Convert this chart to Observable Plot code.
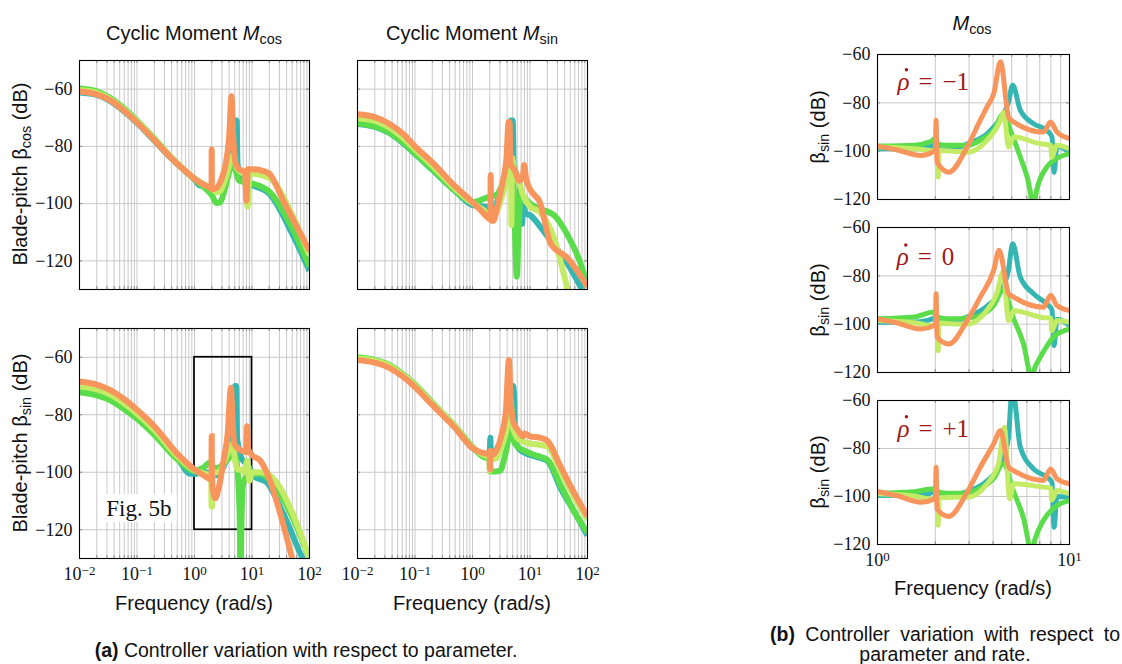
<!DOCTYPE html>
<html><head><meta charset="utf-8">
<script src="https://cdn.jsdelivr.net/npm/d3@7"></script>
<script src="https://cdn.jsdelivr.net/npm/@observablehq/plot@0.6"></script>
<style>
body{margin:0;background:#fff;}
#root{position:relative;width:1122px;height:664px;overflow:hidden;font-family:"Liberation Sans",Arial,sans-serif;color:#111;}
.plot{position:absolute;}
.lbl{position:absolute;white-space:nowrap;font-size:20px;transform:translate(-50%,-50%);}
.rot{transform:translate(-50%,-50%) rotate(-90deg);}
sub{font-size:0.72em;vertical-align:-0.28em;line-height:0;}
.cap{position:absolute;font-size:19.5px;}
</style></head><body><div id="root"></div>
<script>
// ---------- tick values ----------
const leftXTicks = [0.01, 0.1, 1, 10, 100];
const rightXTicks = [1, 10];
const yTicks = [-60, -80, -100, -120];
const leftXGrid = [];
for (const d of [0.01, 0.1, 1, 10]) for (let k = 1; k <= 9; k++) leftXGrid.push(+(k * d).toPrecision(3));
leftXGrid.push(100);
const rightXGrid = [1, 2, 3, 4, 5, 6, 7, 8, 9, 10];

// ---------- series (frequency rad/s, dB) ----------
// Top-left: beta_cos vs M_cos
const tlTeal = [[0.01,-61.2],[0.02,-62],[0.035,-64.3],[0.06,-67.8],[0.1,-71.8],[0.2,-78],[0.4,-84.3],[0.7,-88.8],[1,-91.5],[1.2,-93.5],[1.5,-94],[2,-95],[2.5,-95.5],[3,-93],[4,-87],[4.8,-80],[5.05,-71],[5.4,-71],[5.6,-86],[6.5,-91],[8,-92.5],[10,-93.5],[20,-96.5],[50,-110.5],[100,-123.5]];
const tlGreen = [[0.01,-59.8],[0.02,-60.8],[0.035,-63.2],[0.06,-66.8],[0.1,-71],[0.2,-77.3],[0.4,-84],[0.7,-88.7],[1,-91.5],[1.5,-94.5],[2,-97],[2.4,-99.8],[2.8,-99.5],[3.3,-95.5],[4,-89],[4.7,-85],[5.3,-89],[6,-92],[8,-92.5],[10,-93],[20,-95.8],[50,-108.5],[100,-122]];
const tlLight = [[0.01,-60.3],[0.02,-61.3],[0.035,-63.6],[0.06,-67.2],[0.1,-71.3],[0.2,-77.5],[0.4,-84],[0.7,-88.6],[1,-91.2],[1.5,-93.5],[2,-94.5],[2.4,-96],[2.8,-95.5],[3.5,-91],[4.3,-84.5],[4.7,-83],[5.3,-87],[6,-88.5],[7.5,-90],[8.4,-101],[9,-90],[10,-89.5],[20,-91],[50,-104],[100,-118]];
const tlOrange = [[0.01,-60.8],[0.02,-61.8],[0.035,-64],[0.06,-67.6],[0.1,-71.6],[0.2,-77.8],[0.4,-84.2],[0.7,-88.7],[1,-91.3],[1.5,-93.5],[1.98,-94.5],[1.99,-81],[2.01,-95],[2.4,-94.5],[3,-91],[3.5,-86],[4,-77],[4.4,-62.5],[4.7,-76],[5.2,-86],[6,-88],[7.6,-89],[8,-99],[8.4,-88],[10,-88],[14,-88.3],[20,-89.5],[35,-99],[50,-105],[100,-116.5]];

// Top-right: beta_cos vs M_sin
const trTeal = [[0.01,-72.2],[0.02,-73.2],[0.035,-75.2],[0.065,-79.2],[0.1,-82.6],[0.2,-88.2],[0.5,-95.6],[1,-100.5],[1.5,-101],[2,-101.5],[2.2,-102.5],[3,-96.5],[4,-87],[4.6,-71],[5.0,-71],[5.2,-86],[5.8,-90],[6.5,-91.5],[7.0,-107],[7.3,-107],[7.6,-101],[8.5,-103.5],[10,-104],[15,-108],[23,-113],[45,-121],[80,-130]];
const trGreen = [[0.01,-72],[0.02,-73],[0.035,-75],[0.065,-79],[0.1,-82.5],[0.2,-88],[0.5,-95.5],[1,-99.5],[1.5,-98.5],[2,-97.5],[2.6,-97],[3.2,-94],[4,-89],[4.6,-87],[5.2,-95],[5.9,-125.5],[6.3,-110],[6.9,-96],[8,-98],[10,-100],[13.5,-101.5],[26,-104],[45,-111],[76,-121],[100,-129]];
const trLight = [[0.01,-70.2],[0.02,-71.1],[0.035,-73.3],[0.065,-77.4],[0.1,-81],[0.2,-86.7],[0.5,-94.8],[1,-99.8],[1.5,-102],[2,-104],[2.5,-103.5],[3.2,-98],[4,-91],[4.7,-88],[4.75,-107.5],[4.85,-84],[5.3,-88],[6.5,-93],[8,-98],[10,-101],[15,-103],[25,-111],[45,-130]];
const trOrange = [[0.01,-68.8],[0.02,-69.8],[0.035,-72],[0.065,-76],[0.1,-80],[0.2,-85.6],[0.5,-94],[1,-99.5],[1.5,-103],[2.05,-105.5],[2.07,-90],[2.1,-106],[2.3,-106],[2.7,-101],[3.3,-93],[3.9,-84],[4.25,-71.5],[4.4,-71.5],[4.6,-86],[5.5,-88.5],[6.5,-92],[7.6,-90],[7.9,-86.5],[8.5,-91],[10,-95],[12,-97],[14.5,-99],[23,-114],[45,-119],[100,-129]];

// Bottom-left: beta_sin vs M_cos
const blTeal = [[0.01,-71.8],[0.02,-72.8],[0.035,-74.6],[0.06,-77.6],[0.1,-80.9],[0.2,-86.5],[0.5,-95],[0.85,-100.5],[1.1,-100.5],[1.5,-100],[2,-100.5],[2.5,-101],[3,-99],[4,-93],[4.8,-85],[5.05,-70],[5.3,-70],[5.5,-88],[6.5,-95],[8,-97],[10,-100],[11,-101.5],[18,-103.5],[35,-114.4],[70,-128.5],[80,-131]];
const blGreen = [[0.01,-72.2],[0.02,-73.3],[0.035,-75.1],[0.06,-78.1],[0.1,-81.4],[0.2,-87],[0.5,-95.5],[1,-99.5],[1.4,-98.5],[1.9,-96.5],[2.05,-98],[2.5,-98.5],[3,-97.5],[4,-95],[4.8,-93],[5.5,-98],[6.1,-115],[6.3,-135],[6.6,-115],[7,-104],[8,-101.5],[10,-100.5],[14,-100.5],[20,-102.5],[30,-107],[50,-115.5],[100,-130]];
const blLight = [[0.01,-70.2],[0.02,-71.2],[0.035,-73.1],[0.06,-76.1],[0.1,-79.6],[0.2,-85.3],[0.5,-94.5],[1,-99.3],[1.5,-100.5],[1.95,-101],[1.98,-112],[2.02,-112],[2.06,-100],[2.6,-100],[3.2,-97],[4,-92],[4.6,-90],[5,-95],[5.6,-99],[6.5,-99],[7.5,-100],[8.3,-96],[9,-103],[10,-100],[14,-100],[20,-101],[30,-105],[50,-114],[100,-130]];
const blOrange = [[0.01,-68.4],[0.02,-69.5],[0.035,-71.5],[0.06,-74.6],[0.1,-78.3],[0.2,-84],[0.5,-93.5],[1,-99],[1.5,-101.3],[1.97,-102.5],[1.99,-87.5],[2.02,-104],[2.3,-109],[2.6,-106],[3.2,-96],[3.8,-86],[4.3,-70.6],[4.6,-82],[4.9,-90],[6,-92],[7.9,-93],[8.2,-84],[8.6,-92],[10,-94],[14,-96],[21,-103.4],[31,-114.4],[50,-130]];

// Bottom-right: beta_sin vs M_sin
const brTeal = [[0.01,-60.8],[0.02,-61.6],[0.035,-63.3],[0.06,-66.3],[0.1,-70.1],[0.2,-76.3],[0.5,-84.5],[1,-91.5],[1.5,-93.5],[2.0,-93.5],[2.04,-88],[2.08,-94],[3,-90],[4,-84],[4.8,-76],[5.05,-70],[5.25,-72],[5.5,-88],[6.5,-92],[10,-94],[15,-95],[20,-96],[35,-106],[60,-114],[100,-122]];
const brGreen = [[0.01,-60],[0.02,-60.9],[0.035,-62.6],[0.06,-65.7],[0.1,-69.5],[0.2,-75.8],[0.5,-84],[1,-91.2],[1.5,-94.5],[1.98,-95.5],[2.0,-99.7],[2.5,-99.7],[3.0,-99.5],[3.5,-96],[4.2,-88],[4.7,-78.5],[5.2,-89],[6,-91],[8,-92.5],[12,-94],[20,-95.6],[35,-105],[60,-114],[100,-121]];
const brLight = [[0.01,-60.3],[0.02,-61.2],[0.035,-62.9],[0.06,-66],[0.1,-69.8],[0.2,-76],[0.5,-84.2],[1,-91.4],[1.5,-93.8],[1.98,-95],[2.0,-99.5],[2.04,-95],[2.5,-95.3],[3.2,-91],[4,-84],[4.6,-75],[5.0,-84],[6,-88],[8,-89.5],[10,-90],[15,-90.5],[20,-91],[35,-100],[60,-109],[100,-116.5]];
const brOrange = [[0.01,-61],[0.02,-61.9],[0.035,-63.6],[0.06,-66.6],[0.1,-70.4],[0.2,-76.6],[0.5,-84.6],[1,-91.6],[1.5,-93.3],[2.0,-93.8],[2.02,-99],[2.06,-92.5],[2.2,-94],[2.6,-92.5],[3.2,-87],[3.8,-79],[4.3,-61],[4.6,-75],[5.2,-83],[6,-85],[7.6,-87.5],[8,-86.5],[10,-87.5],[15,-88],[20,-89],[34,-98],[58,-107],[100,-115.3]];

// Right column: beta_sin vs M_cos, rho-dot = -1, 0, +1
const r1Teal = [[1,-99],[1.5,-99],[1.82,-98.5],[2.0,-97.5],[2.13,-99.5],[2.5,-99],[2.93,-97],[3.72,-92.8],[4.4,-86],[4.8,-80],[5.06,-72.7],[5.54,-83],[6.49,-88.6],[7.61,-91.4],[8.1,-94],[8.31,-108.7],[8.6,-98],[10,-100.4]];
const r1Green = [[1,-97.9],[1.55,-97.5],[1.89,-96],[2.0,-94.8],[2.05,-97],[2.3,-97.6],[2.93,-97.6],[3.43,-95.5],[4.03,-91.4],[4.54,-84.5],[4.92,-91.4],[5.54,-102.4],[6.24,-116.3],[6.45,-124],[6.75,-116],[7.61,-106.6],[8.6,-103],[10,-101]];
const r1Light = [[1,-98.3],[1.55,-99],[1.89,-99.7],[2.05,-100],[2.07,-110.7],[2.09,-99.7],[2.5,-100],[2.93,-100.4],[3.72,-95.5],[4.37,-87.2],[4.54,-83.8],[4.82,-98.3],[5.12,-94.1],[7.03,-96.9],[7.98,-97.5],[8.08,-102.5],[8.6,-97.5],[10,-99]];
const r1Orange = [[1,-97.9],[1.27,-99.5],[1.68,-101.8],[1.93,-100.4],[2.0,-99.5],[2.02,-87.2],[2.04,-104.5],[2.35,-108.7],[2.93,-98.3],[3.43,-87.2],[3.72,-81.7],[4.03,-76.2],[4.37,-63],[4.82,-85.9],[5.12,-87.9],[7.31,-92.1],[7.98,-87.9],[8.6,-92.1],[10,-94.8]];

const r2Teal = [[1,-99.2],[1.5,-99.2],[1.82,-98.5],[2.0,-97.5],[2.13,-99.5],[2.5,-99],[2.93,-97],[3.72,-92.5],[4.4,-86],[4.8,-78],[5.06,-66.7],[5.54,-80.5],[6.49,-87.4],[7.61,-91.6],[8.1,-94],[8.31,-108.9],[8.6,-98],[10,-100.6]];
const r2Green = [[1,-97.8],[1.55,-97],[1.97,-95],[2.05,-97],[2.3,-97.8],[2.93,-97.5],[3.43,-96.4],[4.03,-92.3],[4.51,-86],[5.12,-97.8],[5.76,-108.2],[6.36,-122],[6.6,-118],[7.03,-113.8],[8.24,-105.4],[10,-102]];
const r2Light = [[1,-98.5],[1.6,-99.5],[1.89,-100.6],[2.05,-100.5],[2.07,-111],[2.09,-99.5],[2.5,-99.9],[2.93,-99.9],[3.72,-94.2],[4.19,-87.2],[4.51,-78.4],[4.82,-98.5],[5.12,-94.4],[7.31,-97.3],[8.0,-97.5],[8.08,-102.8],[8.6,-98.5],[10,-99.2]];
const r2Orange = [[1,-97.8],[1.27,-99.5],[1.68,-102],[1.97,-100.6],[2.0,-100],[2.02,-87.4],[2.04,-105.4],[2.35,-108.2],[2.93,-98.5],[3.43,-88.8],[4.03,-77.7],[4.3,-69.4],[4.82,-87.4],[5.12,-88.8],[7.31,-93],[7.98,-88],[8.6,-92.3],[10,-94.4]];

const r3Teal = [[1,-99.6],[1.5,-99.5],[1.82,-99],[2.0,-98],[2.13,-100],[2.5,-99.5],[2.93,-98],[3.72,-93.5],[4.4,-86],[4.8,-76],[5.0,-58],[5.1,-58],[5.54,-79.4],[6.49,-88.5],[7.61,-91.9],[8.1,-94],[8.31,-112.8],[8.6,-100],[10,-100.3]];
const r3Green = [[1,-98.6],[1.55,-98],[1.97,-96.8],[2.05,-98],[2.3,-98.6],[2.93,-98.6],[3.43,-96.5],[4.03,-92.5],[4.51,-86.4],[5.12,-98],[5.76,-109],[6.36,-123],[6.6,-118],[7.31,-110],[8.6,-103.8],[10,-101.7]];
const r3Light = [[1,-98.9],[1.6,-100],[1.89,-101],[2.05,-101],[2.07,-112],[2.09,-100.5],[2.5,-100.3],[2.93,-100.3],[3.72,-94.7],[4.28,-86],[4.58,-71.1],[4.88,-101],[5.12,-94.7],[7.31,-96.1],[8.0,-96.5],[8.08,-101.5],[8.6,-97.5],[10,-98.9]];
const r3Orange = [[1,-97.9],[1.27,-99.7],[1.68,-102.4],[1.97,-101],[2.0,-100.5],[2.02,-87.8],[2.04,-105.2],[2.35,-108.3],[2.93,-98.2],[3.43,-87.8],[4.03,-78],[4.37,-72.5],[4.82,-87.8],[5.12,-89.2],[7.31,-93.3],[7.98,-88.5],[8.6,-92.6],[10,-94.7]];

// annotations
const rhoValues = ["−1", "0", "+1"];
const rhoPos = [[1.27, -71.3], [1.26, -72.2], [1.27, -71.8]];
const zoomBox = [{x1: 1, x2: 10, y1: -120, y2: -60}];
const figLabel = [{x: 0.108, y: -112.7, text: "Fig. 5b"}];
const figBg = [{x1: 0.024, x2: 0.5, y1: -117.5, y2: -107.8}];

const COL = {teal: "#36b6b2", green: "#5bdd4b", light: "#c3eb66", orange: "#f7955c"};
const SERIF = "'Liberation Serif','Times New Roman',serif";
const NS = "http://www.w3.org/2000/svg";
const root = document.getElementById("root");

function lines(sets, sw) {
  return sets.map(([pts, c]) => Plot.line(pts, {x: d => d[0], y: d => d[1], stroke: COL[c], strokeWidth: sw, clip: true, curve: "monotone-x", strokeLinejoin: "miter", strokeLinecap: "butt", strokeMiterlimit: 4}));
}

function panel(cfg) {
  const [fx, fy, fw, fh] = cfg.frame;
  const mL = 60, mR = 14, mT = 12, mB = 40;
  const grid = "#c9c9c9", tick = "#8c8c8c";
  const marks = [
    Plot.gridX(cfg.xGrid, {stroke: grid, strokeOpacity: 1, strokeWidth: 1}),
    Plot.gridY(yTicks, {stroke: grid, strokeOpacity: 1, strokeWidth: 1}),
    Plot.ruleX(cfg.xGrid, {stroke: tick, insetTop: fh - 3}),
    Plot.ruleX(cfg.xGrid, {stroke: tick, insetBottom: fh - 3}),
    Plot.ruleY(yTicks, {stroke: tick, insetRight: fw - 3}),
    Plot.ruleY(yTicks, {stroke: tick, insetLeft: fw - 3}),
    ...(cfg.under || []),
    ...lines(cfg.series, cfg.sw),
    ...(cfg.over || []),
    Plot.frame({stroke: "#000", strokeWidth: 1.1})
  ];
  if (cfg.showX) marks.push(Plot.axisX(cfg.xTicks, {tickSize: 0, tickPadding: 9, fontSize: 18, tickFormat: d => "10^" + Math.round(Math.log10(d))}));
  if (cfg.showY) marks.push(Plot.axisY(yTicks, {tickSize: 0, tickPadding: 7, fontSize: 18, tickFormat: d => "−" + Math.abs(d)}));
  const svg = Plot.plot({
    width: fw + mL + mR, height: fh + mT + mB,
    marginLeft: mL, marginRight: mR, marginTop: mT, marginBottom: mB,
    x: {type: "log", domain: cfg.xDomain, axis: null},
    y: {domain: cfg.yDomain, axis: null},
    style: {fontFamily: SERIF, fontSize: "18px", background: "transparent", overflow: "visible", color: "#111"},
    marks
  });
  svg.querySelectorAll('g[aria-label="x-axis tick label"] text').forEach(t => {
    const s = t.textContent, i = s.indexOf("^");
    if (i < 0) return;
    const base = s.slice(0, i), exp = s.slice(i + 1).replace("-", "−");
    t.textContent = "";
    const a = document.createElementNS(NS, "tspan"); a.textContent = base;
    const b = document.createElementNS(NS, "tspan"); b.textContent = exp;
    b.setAttribute("dy", "-0.42em"); b.setAttribute("font-size", "0.72em");
    t.append(a, b);
  });
  const div = document.createElement("div");
  div.className = "plot";
  div.style.left = (fx - mL) + "px";
  div.style.top = (fy - mT) + "px";
  div.appendChild(svg);
  root.appendChild(div);
}

const L = {xDomain: [0.01, 100], yDomain: [-130, -50], xGrid: leftXGrid, xTicks: leftXTicks, sw: 6};
const R = {xDomain: [1, 10], yDomain: [-120, -60], xGrid: rightXGrid, xTicks: rightXTicks, sw: 5, showY: true};

panel({...L, frame: [79, 60, 230, 229], showY: true, showX: false,
  series: [[tlTeal, "teal"], [tlGreen, "green"], [tlLight, "light"], [tlOrange, "orange"]]});
panel({...L, frame: [357, 60, 230, 229], showY: false, showX: false,
  series: [[trTeal, "teal"], [trGreen, "green"], [trLight, "light"], [trOrange, "orange"]]});
panel({...L, frame: [79, 328, 230, 230], showY: true, showX: true,
  under: [
    Plot.rect(figBg, {x1: "x1", x2: "x2", y1: "y1", y2: "y2", fill: "#fff"}),
    Plot.text(figLabel, {x: "x", y: "y", text: "text", fontSize: 23, fontFamily: SERIF, fill: "#111"}),
    Plot.rect(zoomBox, {x1: "x1", x2: "x2", y1: "y1", y2: "y2", fill: "none", stroke: "#000", strokeWidth: 1.7})
  ],
  series: [[blTeal, "teal"], [blGreen, "green"], [blLight, "light"], [blOrange, "orange"]]});
panel({...L, frame: [357, 328, 230, 230], showY: false, showX: true,
  series: [[brTeal, "teal"], [brGreen, "green"], [brLight, "light"], [brOrange, "orange"]]});

const rhoMarks = i => {
  const p = [rhoPos[i]];
  const o = {x: d => d[0], y: d => d[1], fill: "#a01818", fontSize: 25, fontFamily: SERIF};
  return [
    Plot.text(p, {...o, text: () => "ρ", fontStyle: "italic", textAnchor: "start"}),
    Plot.dot(p, {x: d => d[0], y: d => d[1], r: 1.7, fill: "#a01818", stroke: null, dx: 9, dy: -12}),
    Plot.text(p, {...o, text: () => "=", dx: 21, textAnchor: "start"}),
    Plot.text(p, {...o, text: () => rhoValues[i], dx: 45, textAnchor: "start"})
  ];
};
panel({...R, frame: [877, 54, 192, 145], showX: false, over: rhoMarks(0),
  series: [[r1Teal, "teal"], [r1Green, "green"], [r1Light, "light"], [r1Orange, "orange"]]});
panel({...R, frame: [877, 227, 192, 145], showX: false, over: rhoMarks(1),
  series: [[r2Teal, "teal"], [r2Green, "green"], [r2Light, "light"], [r2Orange, "orange"]]});
panel({...R, frame: [877, 400, 192, 144], showX: true, over: rhoMarks(2),
  series: [[r3Teal, "teal"], [r3Green, "green"], [r3Light, "light"], [r3Orange, "orange"]]});

// ---------- text around the panels ----------
function label(html, x, y, rot, extra) {
  const d = document.createElement("div");
  d.className = "lbl" + (rot ? " rot" : "");
  d.style.left = x + "px"; d.style.top = y + "px";
  d.innerHTML = html;
  if (extra) Object.assign(d.style, extra);
  root.appendChild(d);
}
label("Cyclic Moment <i>M</i><sub>cos</sub>", 194, 33);
label("Cyclic Moment <i>M</i><sub>sin</sub>", 472, 33);
label("<i>M</i><sub>cos</sub>", 972, 23);
label("Blade-pitch β<sub>cos</sub> (dB)", 20, 174, true);
label("Blade-pitch β<sub>sin</sub> (dB)", 20, 443, true);
label("β<sub>sin</sub> (dB)", 818, 127, true);
label("β<sub>sin</sub> (dB)", 818, 300, true);
label("β<sub>sin</sub> (dB)", 818, 472, true);
label("Frequency (rad/s)", 194, 603);
label("Frequency (rad/s)", 472, 603);
label("Frequency (rad/s)", 973, 588);
label("<b>(a)</b> Controller variation with respect to parameter.", 306, 650, false, {fontSize: "19.5px"});
const cb = document.createElement("div");
cb.className = "cap";
Object.assign(cb.style, {left: "770px", top: "624px", width: "350px", textAlign: "justify", textAlignLast: "center", lineHeight: "20px"});
cb.innerHTML = "<b>(b)</b> Controller variation with respect to parameter and rate.";
root.appendChild(cb);
</script></body></html>
